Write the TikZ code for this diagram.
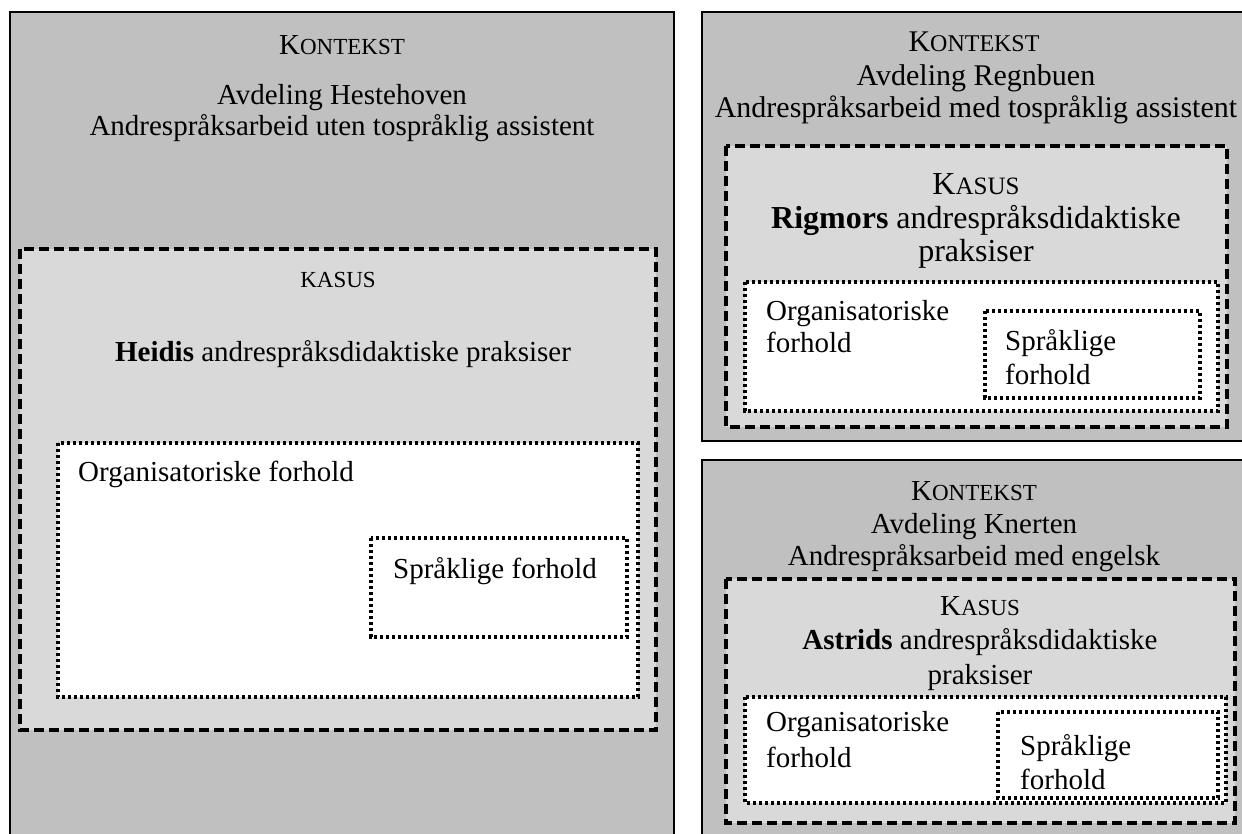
\documentclass[tikz,border=0pt]{standalone}
\usepackage{fontspec}
\setmainfont{Liberation Serif}
\definecolor{ctxgray}{HTML}{C0C0C0}
\definecolor{casegray}{HTML}{D9D9D9}
\newcommand{\kfont}{\fontsize{29}{33}\selectfont}
\newcommand{\midkfont}{\fontsize{30}{34}\selectfont}
\newcommand{\bigkfont}{\fontsize{32}{36}\selectfont}
\newcommand{\smcp}[1]{{\fontsize{23}{23}\selectfont #1}}
\newcommand{\midsmcp}[1]{{\fontsize{24}{24}\selectfont #1}}
\newcommand{\bigsmcp}[1]{{\fontsize{25}{25}\selectfont #1}}
\tikzset{
  ctxbox/.style={draw=black, fill=ctxgray, line width=1.2pt},
  ctxboxthick/.style={draw=black, fill=ctxgray, line width=2pt},
  casebox/.style={draw=black, fill=casegray, line width=3.5pt, dash pattern=on 10pt off 5pt},
  dotbox/.style={draw=black, fill=white, line width=3.5pt, dash pattern=on 3.2pt off 2.8pt},
  lbl/.style={inner sep=0pt, anchor=base, font=\kfont},
  midlbl/.style={inner sep=0pt, anchor=base, font=\midkfont},
  biglbl/.style={inner sep=0pt, anchor=base, font=\bigkfont},
  lbll/.style={inner sep=0pt, anchor=base west, font=\kfont},
}
\begin{document}
\begin{tikzpicture}[x=1pt, y=-1pt]
\useasboundingbox (0,0) rectangle (1242,834);
\clip (0,0) rectangle (1242,834);

% Hestehoven (left)
\draw[ctxboxthick] (10,12) rectangle (674,900);
\draw[casebox] (20,249) rectangle (656,730);
\draw[dotbox] (58,443) rectangle (638,697);
\draw[dotbox] (371,538) rectangle (627,637);
\node[lbl] (hkon) at (342,55) {K\smcp{ONTEKST}};
\node[lbl] (havd) at (342,105) {Avdeling Hestehoven};
\node[lbl] (harb) at (342,136) {Andrespråksarbeid uten tospråklig assistent};
\node[lbl] (hkas) at (338,288) {\smcp{KASUS}};
\node[lbl] (hprk) at (343,361) {\textbf{Heidis} andrespråksdidaktiske praksiser};
\node[lbll] (horg) at (78,481) {Organisatoriske forhold};
\node[lbll] (hspr) at (393,578) {Språklige forhold};

% Regnbuen (top right)
\draw[ctxbox] (702,12) rectangle (1250,441);
\draw[casebox] (726,146) rectangle (1227,427);
\draw[dotbox] (745,282) rectangle (1218,411);
\draw[dotbox] (985,311) rectangle (1200,398);
\node[midlbl] (rkon) at (974,52) {K\midsmcp{ONTEKST}};
\node[midlbl] (ravd) at (976,86) {Avdeling Regnbuen};
\node[midlbl] (rarb) at (976,118) {Andrespråksarbeid med tospråklig assistent};
\node[biglbl] (rkas) at (976,195) {K\bigsmcp{ASUS}};
\node[biglbl] (rprk) at (976,229) {\textbf{Rigmors} andrespråksdidaktiske};
\node[biglbl] (rprk2) at (976,262) {praksiser};
\node[lbll] (rorg) at (766,320) {Organisatoriske};
\node[lbll] (rorg2) at (766,352) {forhold};
\node[lbll] (rspr) at (1005,350) {Språklige};
\node[lbll] (rspr2) at (1005,384) {forhold};

% Knerten (bottom right)
\draw[ctxbox] (702,460) rectangle (1250,900);
\draw[casebox] (726,579) rectangle (1235,823);
\draw[dotbox] (745,697) rectangle (1226,803);
\draw[dotbox] (998,712) rectangle (1218,798);
\node[lbl] (kkon) at (974,500) {K\smcp{ONTEKST}};
\node[lbl] (kavd) at (974,533) {Avdeling Knerten};
\node[lbl] (karb) at (974,565) {Andrespråksarbeid med engelsk};
\node[lbl] (kkas) at (980,615) {K\smcp{ASUS}};
\node[lbl] (kprk) at (980,649) {\textbf{Astrids} andrespråksdidaktiske};
\node[lbl] (kprk2) at (980,684) {praksiser};
\node[lbll] (korg) at (766,731) {Organisatoriske};
\node[lbll] (korg2) at (766,767) {forhold};
\node[lbll] (kspr) at (1020,755) {Språklige};
\node[lbll] (kspr2) at (1020,789) {forhold};
\end{tikzpicture}
\end{document}
